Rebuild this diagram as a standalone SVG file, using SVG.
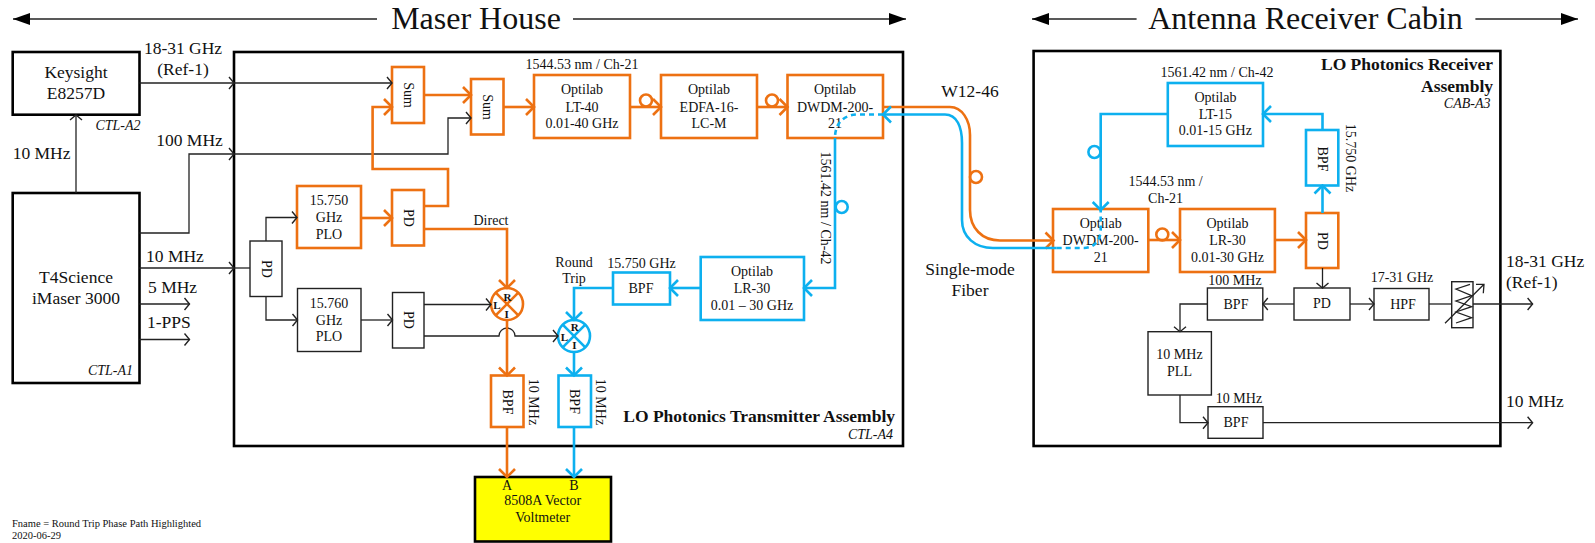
<svg xmlns="http://www.w3.org/2000/svg" width="1595" height="543" viewBox="0 0 1595 543">
<style>
text{font-family:"Liberation Serif","Times New Roman",serif;fill:#111;font-size:14px;text-anchor:middle}
.l{font-size:17.5px}.ti{font-size:32px}.st{text-anchor:start}.en{text-anchor:end}
.it{font-style:italic}.b{font-weight:bold}.bt{font-weight:bold;font-size:17.5px;text-anchor:end}
.sm{font-size:10.5px;text-anchor:start}.mx{font-size:11px;font-weight:bold}
rect{fill:none}
.big{stroke:#000;stroke-width:2.6}.k{stroke:#222;stroke-width:1.4}
.o{stroke:#ED7112;stroke-width:2.6}.c{stroke:#0DB0EF;stroke-width:2.6}
.y{fill:#FFFF00;stroke:#000;stroke-width:2.6}
path,line,circle{fill:none}
.lk{stroke:#222;stroke-width:1.3}.lo{stroke:#ED7112;stroke-width:2.6}.lc{stroke:#0DB0EF;stroke-width:2.6}
.dc{stroke:#0DB0EF;stroke-width:2.6;stroke-dasharray:5 4}
.ak{marker-end:url(#ak)}.ao{marker-end:url(#ao)}.ac{marker-end:url(#ac)}.at{stroke:#222;stroke-width:1.4;marker-end:url(#at)}
.hd{fill:#000;stroke:none}
</style>
<defs>
<marker id="ak" markerUnits="userSpaceOnUse" markerWidth="10" markerHeight="16" refX="7" refY="8" orient="auto"><path d="M2,2L7,8L2,14" stroke="#222" stroke-width="1.4"/></marker>
<marker id="ao" markerUnits="userSpaceOnUse" markerWidth="12" markerHeight="20" refX="10" refY="10" orient="auto"><path d="M2,2L10,10L2,18" stroke="#ED7112" stroke-width="2.6"/></marker>
<marker id="ac" markerUnits="userSpaceOnUse" markerWidth="12" markerHeight="20" refX="10" refY="10" orient="auto"><path d="M2,2L10,10L2,18" stroke="#0DB0EF" stroke-width="2.6"/></marker>
<marker id="at" markerUnits="userSpaceOnUse" markerWidth="18" markerHeight="14" refX="17" refY="7" orient="auto"><path class="hd" d="M0,1L17,7L0,13Z"/></marker>
</defs>

<g id="titles">
<text class="ti" x="476" y="29">Maser House</text>
<text class="ti" x="1305.5" y="29">Antenna Receiver Cabin</text>
</g>

<g id="keysight"><rect class="big" x="12.7" y="52" width="126.8" height="62.7"/><text class="l" x="76" y="78">Keysight</text><text class="l" x="76" y="99">E8257D</text><text class="it en" x="140.5" y="130">CTL-A2</text></g>
<g id="imaser"><rect class="big" x="12.7" y="193" width="126.8" height="190"/><text class="l" x="76" y="283">T4Science</text><text class="l" x="76" y="304">iMaser 3000</text><text class="it en" x="133" y="375">CTL-A1</text></g>

<g id="transmitter"><rect class="big" x="234" y="52" width="669" height="394"/><text class="bt" x="895" y="421.5">LO Photonics Transmitter Assembly</text><text class="it en" x="893" y="439">CTL-A4</text></g>
<g id="sum1"><rect class="o" x="392" y="67" width="32" height="56"/><text transform="rotate(90 403.5 95)" x="403.5" y="95">Sum</text></g>
<g id="sum2"><rect class="o" x="471" y="79" width="32.5" height="55.5"/><text transform="rotate(90 482.5 107)" x="482.5" y="107">Sum</text></g>
<g id="lt40"><rect class="o" x="534" y="75" width="96" height="63"/><text x="582" y="68.5">1544.53 nm / Ch-21</text><text x="582" y="94">Optilab</text><text x="582" y="112">LT-40</text><text x="582" y="128">0.01-40 GHz</text></g>
<g id="edfa"><rect class="o" x="661" y="75" width="96" height="63"/><text x="709" y="94">Optilab</text><text x="709" y="112">EDFA-16-</text><text x="709" y="128">LC-M</text></g>
<g id="dwdm-tx"><rect class="o" x="787.5" y="75" width="95.5" height="63"/><text x="835" y="94">Optilab</text><text x="835" y="112">DWDM-200-</text><text x="835" y="128">21</text></g>
<g id="plo-15750"><rect class="o" x="297" y="186" width="64" height="62"/><text x="329" y="205">15.750</text><text x="329" y="222">GHz</text><text x="329" y="239">PLO</text></g>
<g id="pd-orange"><rect class="o" x="392" y="190" width="32" height="55.5"/><text transform="rotate(90 403.5 218)" x="403.5" y="218">PD</text></g>
<g id="pd-split"><rect class="k" x="250" y="241" width="32" height="55.5"/><text transform="rotate(90 261.5 269)" x="261.5" y="269">PD</text></g>
<g id="plo-15760"><rect class="k" x="297.5" y="288.5" width="63.5" height="63"/><text x="329" y="308">15.760</text><text x="329" y="325">GHz</text><text x="329" y="341">PLO</text></g>
<g id="pd-black"><rect class="k" x="392.5" y="292.5" width="31.5" height="55.5"/><text transform="rotate(90 403.5 320)" x="403.5" y="320">PD</text></g>
<g id="mixer-direct"><circle class="lo" cx="507" cy="304" r="16"/><line class="lo" x1="495.7" y1="292.7" x2="518.3" y2="315.3"/><line class="lo" x1="518.3" y1="292.7" x2="495.7" y2="315.3"/><text class="mx" x="507.5" y="300.5">R</text><text class="mx" x="497" y="308.5">L</text><text class="mx" x="506.7" y="318">I</text></g>
<g id="mixer-round"><circle class="lc" cx="574" cy="336" r="16"/><line class="lc" x1="562.7" y1="324.7" x2="585.3" y2="347.3"/><line class="lc" x1="585.3" y1="324.7" x2="562.7" y2="347.3"/><text class="mx" x="574.7" y="331">R</text><text class="mx" x="564.3" y="340.5">L</text><text class="mx" x="574.3" y="349">I</text></g>
<g id="bpf-direct"><rect class="o" x="491" y="375.5" width="32.5" height="51.5"/><text transform="rotate(90 502.5 402)" x="502.5" y="402">BPF</text><text transform="rotate(90 528.5 402)" x="528.5" y="402">10 MHz</text></g>
<g id="bpf-round"><rect class="c" x="558.5" y="375.5" width="32.5" height="51.5"/><text transform="rotate(90 570 401.5)" x="570" y="401.5">BPF</text><text transform="rotate(90 595.5 402)" x="595.5" y="402">10 MHz</text></g>
<g id="bpf-15750"><rect class="c" x="613" y="272.5" width="57" height="32"/><text x="641" y="293">BPF</text><text x="641.5" y="268">15.750 GHz</text><text x="574" y="266.7">Round</text><text x="574" y="283">Trip</text></g>
<g id="lr30-tx"><rect class="c" x="700.7" y="257" width="103.3" height="63"/><text x="752" y="276">Optilab</text><text x="752" y="293">LR-30</text><text x="752" y="310">0.01 – 30 GHz</text></g>
<g id="vvm"><rect class="y" x="475" y="477" width="136" height="64.5"/><text x="507" y="490">A</text><text x="574" y="490">B</text><text x="542.7" y="505">8508A Vector</text><text x="542.7" y="521.7">Voltmeter</text></g>

<g id="receiver"><rect class="big" x="1033.6" y="51" width="466.8" height="395"/><text class="bt" x="1493" y="70">LO Photonics Receiver</text><text class="bt" x="1493" y="91.5">Assembly</text><text class="it en" x="1490.5" y="108">CAB-A3</text></g>
<g id="lt15"><rect class="c" x="1167.8" y="83" width="95.2" height="63"/><text x="1217" y="77">1561.42 nm / Ch-42</text><text x="1215.4" y="102">Optilab</text><text x="1215.4" y="119">LT-15</text><text x="1215.4" y="135">0.01-15 GHz</text></g>
<g id="dwdm-rx"><rect class="o" x="1053" y="209" width="95.3" height="63"/><text x="1100.7" y="228">Optilab</text><text x="1100.7" y="245">DWDM-200-</text><text x="1100.7" y="262">21</text></g>
<g id="lr30-rx"><rect class="o" x="1180" y="209" width="94.9" height="63"/><text x="1165.6" y="186">1544.53 nm /</text><text x="1165.6" y="203">Ch-21</text><text x="1227.5" y="228">Optilab</text><text x="1227.5" y="245">LR-30</text><text x="1227.5" y="262">0.01-30 GHz</text></g>
<g id="pd-rx-orange"><rect class="o" x="1306" y="213" width="32.3" height="55"/><text transform="rotate(90 1317.5 241)" x="1317.5" y="241">PD</text></g>
<g id="bpf-rx-blue"><rect class="c" x="1306" y="130" width="32.3" height="55.5"/><text transform="rotate(90 1317.5 159)" x="1317.5" y="159">BPF</text><text transform="rotate(90 1345.5 158)" x="1345.5" y="158">15.750 GHz</text></g>
<g id="pd-rx"><rect class="k" x="1294" y="288" width="56" height="32"/><text x="1322" y="308">PD</text></g>
<g id="bpf-100"><rect class="k" x="1207.4" y="288" width="55.4" height="32"/><text x="1236" y="308.5">BPF</text><text x="1235" y="285">100 MHz</text></g>
<g id="hpf"><rect class="k" x="1374" y="288.5" width="55" height="31.5"/><text x="1403" y="308.5">HPF</text><text x="1402" y="282">17-31 GHz</text></g>
<g id="attenuator"><rect class="k" x="1451.7" y="281.7" width="21.3" height="46"/><path class="lk" d="M1470,284.3L1456,289L1471.7,295.7L1456,301L1471.7,306.7L1456,312L1471.7,317.7L1456,323"/><path class="lk" d="M1445,323.3L1484,284.3M1476,284.3H1484L1483.3,293.3"/></g>
<g id="pll"><rect class="k" x="1148" y="331.7" width="63.4" height="63.3"/><text x="1179.5" y="359">10 MHz</text><text x="1179.5" y="376">PLL</text></g>
<g id="bpf-10"><rect class="k" x="1208" y="406.7" width="55" height="31.6"/><text x="1236" y="427">BPF</text><text x="1239" y="403">10 MHz</text></g>

<g id="labels">
<text class="l" x="183" y="54">18-31 GHz</text><text class="l" x="183" y="75">(Ref-1)</text>
<text class="l" x="189.5" y="146">100 MHz</text>
<text class="l st" x="12.7" y="159">10 MHz</text>
<text class="l st" x="146" y="262">10 MHz</text>
<text class="l st" x="148" y="293">5 MHz</text>
<text class="l st" x="147" y="328">1-PPS</text>
<text x="491" y="225">Direct</text>
<text transform="rotate(90 820.5 208)" x="820.5" y="208">1561.42 nm / Ch-42</text>
<text class="l" x="970" y="97.3">W12-46</text>
<text class="l" x="970" y="275">Single-mode</text><text class="l" x="970" y="296">Fiber</text>
<text class="l st" x="1506" y="267">18-31 GHz</text><text class="l st" x="1506" y="287.7">(Ref-1)</text>
<text class="l st" x="1506" y="407">10 MHz</text>
<text class="sm" x="12" y="526.5">Fname = Round Trip Phase Path Highlighted</text>
<text class="sm" x="12" y="539">2020-06-29</text>
</g>

<g id="connectors">
<line class="at" x1="377" y1="19" x2="13" y2="19"/><line class="at" x1="573" y1="19" x2="906" y2="19"/>
<line class="at" x1="1136.6" y1="19" x2="1032" y2="19"/><line class="at" x1="1475.4" y1="19" x2="1578" y2="19"/>
<!-- black -->
<path class="lk ak" d="M76,193V115"/>
<path class="lk ak" d="M139.5,83H234"/><path class="lk ak" d="M234,83H392"/>
<path class="lk ak" d="M139.5,233H189V154H234"/><path class="lk ak" d="M234,154H448V118H471"/>
<path class="lk ak" d="M139.5,268H234"/><path class="lk" d="M234,268H250"/>
<path class="lk ak" d="M139.5,304H189.5"/><path class="lk ak" d="M139.5,339.5H189.5"/>
<path class="lk ak" d="M266,241V217.5H297"/><path class="lk ak" d="M266,296.5V320H297.5"/>
<path class="lk ak" d="M361,320H392.5"/>
<path class="lk ak" d="M424,304.5H491"/>
<path class="lk ak" d="M424,336H499A8,8 0 0 1 515,336H558"/>
<path class="lk ak" d="M1322.5,268V288"/><path class="lk ak" d="M1294,304H1262.8"/><path class="lk ak" d="M1350,304H1374"/>
<path class="lk" d="M1429,304H1451.7"/><path class="lk ak" d="M1473,304H1532.6"/>
<path class="lk ak" d="M1207.4,304H1180V331.7"/><path class="lk ak" d="M1180,395V422.7H1208"/><path class="lk ak" d="M1263,422.7H1532.6"/>
<!-- orange -->
<path class="lo ao" d="M424,95H471"/><path class="lo ao" d="M503.5,107H534"/>
<path class="lo ao" d="M630,107H661"/><path class="lo ao" d="M757,107H787.5"/>
<circle class="lo" cx="646" cy="100.5" r="6"/><circle class="lo" cx="772" cy="100.5" r="6"/>
<path class="lo ao" d="M361,218H392"/>
<path class="lo ao" d="M424,206H448V169H372.6V107H392"/>
<path class="lo ao" d="M424,229H507V288"/>
<path class="lo ao" d="M507,320V375.5"/><path class="lo ao" d="M507,427V477"/>
<path class="lo ao" d="M883,107H950C962,107 970,120 970,135V210C970,228 982,240.5 1000,240.5H1053.5"/>
<circle class="lo" cx="976" cy="177" r="6"/>
<path class="lo ao" d="M1148.3,240H1180"/><circle class="lo" cx="1162.3" cy="234.5" r="6"/>
<path class="lo ao" d="M1274.9,240H1306"/>
<!-- blue -->
<path class="lc ac" d="M1056.7,248H993C975,248 962,237 962,220V143C962,127 957,114.5 945,114.5H883"/>
<path class="dc" d="M883,114.5H858C845,114.5 835,122 835,138"/>
<path class="lc ac" d="M835,138V288H804"/><circle class="lc" cx="841.7" cy="207" r="6"/>
<path class="lc ac" d="M700.7,288H670"/>
<path class="lc ac" d="M613,288H574V320"/>
<path class="lc ac" d="M574,352V375.5"/><path class="lc ac" d="M574,427V477"/>
<path class="lc ac" d="M1322.5,213V185.5"/>
<path class="lc ac" d="M1322.5,130V114H1263"/>
<path class="lc ac" d="M1167.8,114H1100.7V210"/><circle class="lc" cx="1094.4" cy="152" r="6"/>
<path class="dc" d="M1056.7,248H1084C1094,248 1100.7,240 1100.7,230V210"/>
</g>
</svg>
